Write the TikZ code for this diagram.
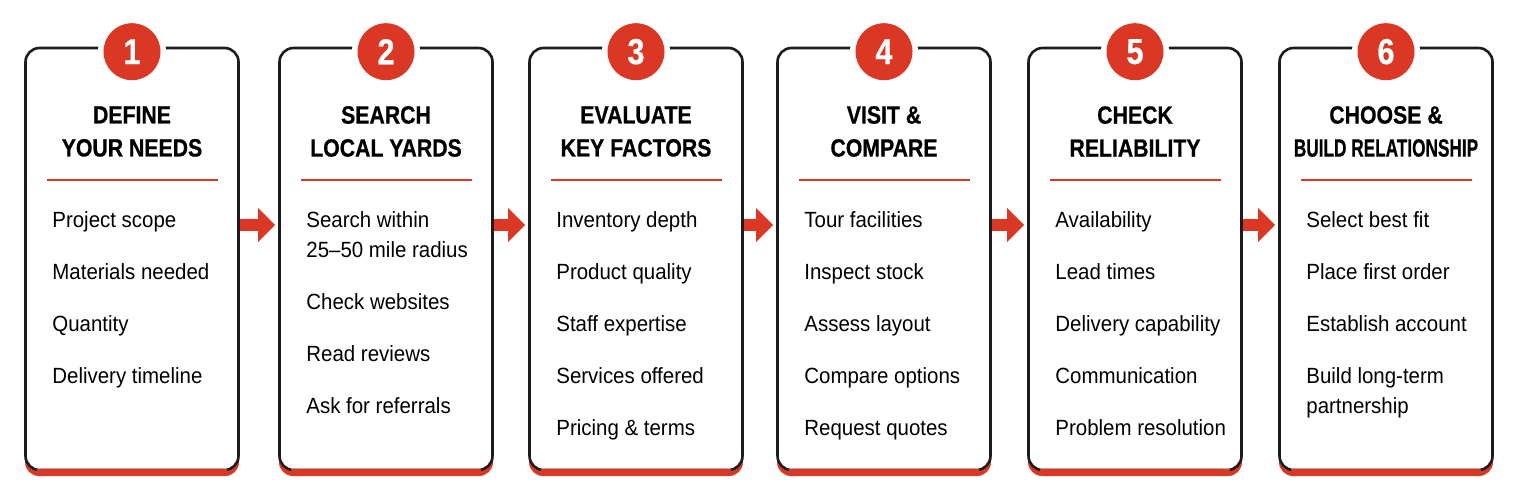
\documentclass[tikz,border=0pt]{standalone}
\usepackage{fontspec}
\usepackage{graphicx}
\setmainfont{Liberation Sans}[FakeStretch=0.93]
\newfontfamily\headfont{Liberation Sans}[FakeStretch=0.85,FakeBold=0.6]
\usetikzlibrary{arrows.meta}
\definecolor{stepred}{RGB}{218,56,36}
\definecolor{edge}{RGB}{28,28,28}

\tikzset{
  card/.style={draw=edge, line width=2.6pt, fill=white, rounded corners=14pt, minimum width=213pt, minimum height=422pt},
  cardbase/.style={fill=stepred, rounded corners=14pt, minimum width=214pt, minimum height=422pt},
  badge/.style={circle, fill=stepred, text=white, minimum size=57pt, inner sep=0pt, font=\headfont\bfseries\fontsize{36}{36}\selectfont, preaction={draw=white, line width=11pt}},
  heading/.style={align=center, inner sep=0pt, font=\headfont\bfseries\fontsize{25}{33}\selectfont, text=black},
  items/.style={align=left, anchor=north west, inner sep=0pt, font=\fontsize{22}{30}\selectfont, text=black},
  rule/.style={stepred, line width=2pt},
  flow/.style={stepred, line width=12pt, -{Triangle[length=17pt,width=33pt]}, shorten >=3pt}
}

\begin{document}
\begin{tikzpicture}[x=1pt,y=-1pt]
\useasboundingbox (0,0) rectangle (1517,502);

\foreach \k/\cx in {1/132, 2/386, 3/636, 4/884, 5/1135, 6/1386} {
  \node[cardbase] at (\cx,265) {};
  \node[card] (c\k) at (\cx,259) {};
  % red bottom edge
  \draw[stepred, line width=3pt] ([xshift=13pt,yshift=1.3pt]c\k.south west) -- ([xshift=-13pt,yshift=1.3pt]c\k.south east);
  \node[badge] (n\k) at ([yshift=-5pt]c\k.north) {\k};
  \draw[rule] ([xshift=23pt,yshift=-133pt]c\k.north west) -- ([xshift=-22pt,yshift=-133pt]c\k.north east);
}

\node[heading] (h1) at (132,131.5) {DEFINE\\YOUR NEEDS};
\node[heading] (h2) at (386,131.5) {SEARCH\\LOCAL YARDS};
\node[heading] (h3) at (636,131.5) {EVALUATE\\KEY FACTORS};
\node[heading] (h4) at (884,131.5) {VISIT \&\\COMPARE};
\node[heading] (h5) at (1135,131.5) {CHECK\\RELIABILITY};
\node[heading] (h6) at (1386,131.5) {CHOOSE \&\\\scalebox{0.81}[1]{BUILD RELATIONSHIP}};

\node[items] (l1) at ([xshift=28pt,yshift=-165pt]c1.north west) {Project scope\\[22pt]Materials needed\\[22pt]Quantity\\[22pt]Delivery timeline};
\node[items] (l2) at ([xshift=28pt,yshift=-165pt]c2.north west) {Search within\\25--50 mile radius\\[22pt]Check websites\\[22pt]Read reviews\\[22pt]Ask for referrals};
\node[items] (l3) at ([xshift=28pt,yshift=-165pt]c3.north west) {Inventory depth\\[22pt]Product quality\\[22pt]Staff expertise\\[22pt]Services offered\\[22pt]Pricing \& terms};
\node[items] (l4) at ([xshift=28pt,yshift=-165pt]c4.north west) {Tour facilities\\[22pt]Inspect stock\\[22pt]Assess layout\\[22pt]Compare options\\[22pt]Request quotes};
\node[items] (l5) at ([xshift=28pt,yshift=-165pt]c5.north west) {Availability\\[22pt]Lead times\\[22pt]Delivery capability\\[22pt]Communication\\[22pt]Problem resolution};
\node[items] (l6) at ([xshift=28pt,yshift=-165pt]c6.north west) {Select best fit\\[22pt]Place first order\\[22pt]Establish account\\[22pt]Build long-term\\partnership};

\foreach \k [evaluate=\k as \j using int(\k+1)] in {1,...,5}
  \draw[flow] ([yshift=34pt]c\k.east) -- ([yshift=34pt]c\j.west);

\end{tikzpicture}
\end{document}
